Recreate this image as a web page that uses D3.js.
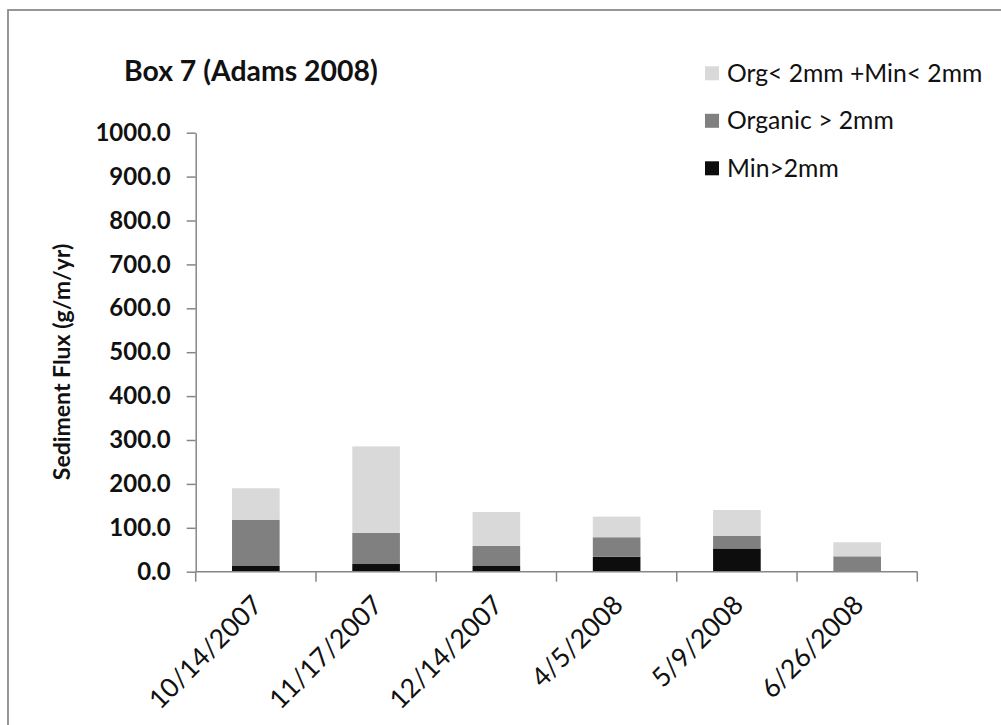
<!DOCTYPE html>
<html>
<head>
<meta charset="utf-8">
<script src="https://cdn.jsdelivr.net/npm/d3@7"></script>
<style>
  html, body { margin: 0; padding: 0; background: #fff; }
  svg { display: block; }
</style>
</head>
<body>
<svg id="chart" width="1001" height="725"></svg>
<script>
// ---- data ----
const categories = ["10/14/2007", "11/17/2007", "12/14/2007", "4/5/2008", "5/9/2008", "6/26/2008"];
const minCoarse = [13, 17.5, 13, 34, 53, 0];          // Min>2mm
const orgCoarse = [105.5, 71, 46, 44.5, 29, 35];      // Organic > 2mm
const fineMix   = [71.5, 197, 77, 47, 58.5, 32];      // Org< 2mm +Min< 2mm
const seriesNames = ["Min>2mm", "Organic > 2mm", "Org< 2mm +Min< 2mm"];
const seriesColors = ["#0d0d0d", "#808080", "#d9d9d9"];
const yTicks = [0, 100, 200, 300, 400, 500, 600, 700, 800, 900, 1000];
const titleText = "Box 7 (Adams 2008)";
const yTitle = "Sediment Flux (g/m/yr)";

// ---- layout ----
const svg = d3.select("#chart");
const FONT = "Lato, 'Open Sans', sans-serif";
const plot = { left: 195.7, right: 917.3, top: 132.7, bottom: 571.7 };

// frame
svg.append("rect")
  .attr("x", 8).attr("y", 10).attr("width", 1010).attr("height", 740)
  .attr("fill", "#fff").attr("stroke", "#8c8c8c").attr("stroke-width", 1.8);

const x = d3.scaleBand().domain(categories)
  .range([plot.left, plot.right]).paddingInner(0.604).paddingOuter(0.302);
const y = d3.scaleLinear().domain([0, 1000]).range([plot.bottom, plot.top]);

// stack
const rows = categories.map((c, i) => ({
  cat: c, s0: minCoarse[i], s1: orgCoarse[i], s2: fineMix[i]
}));
const stack = d3.stack().keys(["s0", "s1", "s2"])(rows);

svg.append("g").selectAll("g").data(stack).join("g")
  .attr("fill", (d, i) => seriesColors[i])
  .selectAll("rect").data(d => d).join("rect")
  .attr("x", d => x(d.data.cat))
  .attr("width", x.bandwidth())
  .attr("y", d => y(d[1]))
  .attr("height", d => Math.max(0, y(d[0]) - y(d[1])));

// y axis
const yAxis = svg.append("g").attr("transform", `translate(${plot.left},0)`)
  .call(d3.axisLeft(y).tickValues(yTicks).tickFormat(d3.format(".1f"))
    .tickSize(9).tickPadding(16).tickSizeOuter(0));
yAxis.select(".domain").attr("stroke", "#868686").attr("stroke-width", 1.5);
yAxis.selectAll(".tick line").attr("stroke", "#868686").attr("stroke-width", 1.5);
yAxis.selectAll(".tick text")
  .attr("font-family", FONT).attr("font-weight", "bold").attr("font-size", 24)
  .attr("fill", "#111");

// x axis (ticks at category boundaries)
const xAxisG = svg.append("g").attr("transform", `translate(0,${plot.bottom})`);
xAxisG.append("line").attr("x1", plot.left).attr("x2", plot.right)
  .attr("stroke", "#868686").attr("stroke-width", 1.5);
const step = x.step();
const boundaries = d3.range(categories.length + 1).map(i => plot.left + i * step);
xAxisG.selectAll("line.tk").data(boundaries).join("line").attr("class", "tk")
  .attr("x1", d => d).attr("x2", d => d).attr("y1", 0).attr("y2", 10)
  .attr("stroke", "#868686").attr("stroke-width", 1.5);
xAxisG.selectAll("text").data(categories).join("text")
  .attr("transform", d => `translate(${x(d) + x.bandwidth() / 2 + 8},${35}) rotate(-45)`)
  .attr("text-anchor", "end")
  .attr("font-family", FONT).attr("font-size", 26.5).attr("fill", "#111")
  .text(d => d);

// title
svg.append("text").attr("x", 124).attr("y", 81)
  .attr("font-family", FONT).attr("font-weight", "bold").attr("font-size", 28.4)
  .attr("fill", "#111").text(titleText);

// y title
svg.append("text")
  .attr("transform", `translate(70,362) rotate(-90)`)
  .attr("text-anchor", "middle")
  .attr("font-family", FONT).attr("font-weight", "bold").attr("font-size", 23)
  .attr("fill", "#111").text(yTitle);

// legend (top-down: fine, organic, min)
const legendOrder = [2, 1, 0];
const lg = svg.append("g");
legendOrder.forEach((si, r) => {
  const cy = 73.3 + r * 47.5;
  lg.append("rect").attr("x", 705).attr("y", cy - 7).attr("width", 14).attr("height", 14)
    .attr("fill", seriesColors[si]);
  lg.append("text").attr("x", 727).attr("y", cy).attr("dy", "0.35em")
    .attr("font-family", FONT).attr("font-size", 24.7).attr("fill", "#111")
    .text(seriesNames[si]);
});
</script>
</body>
</html>
